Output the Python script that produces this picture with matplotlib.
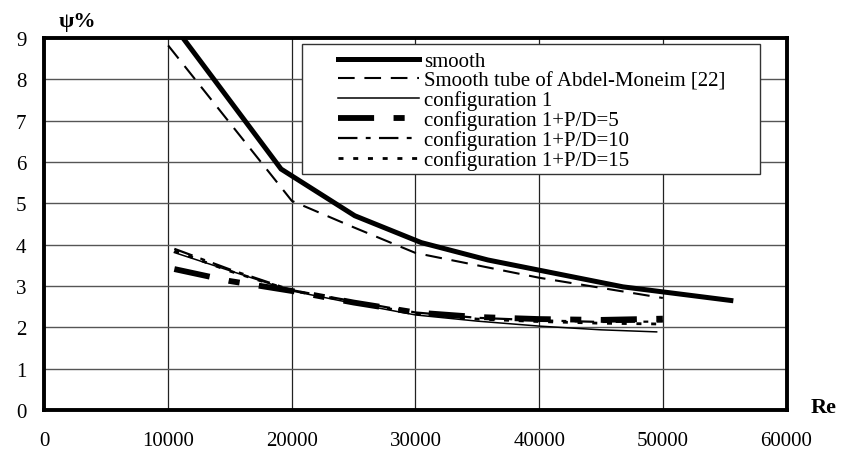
import matplotlib
matplotlib.use("Agg")
from matplotlib import pyplot as plt
from matplotlib.patches import Rectangle

plt.rcParams['font.family'] = ['Liberation Serif', 'DejaVu Serif']
plt.rcParams['lines.scale_dashes'] = False

# friction factor ratio psi (%) against Reynolds number
re_smooth = [10500, 19130, 25090, 30470, 35850, 46770, 55500]
psi_smooth = [9.28, 5.83, 4.70, 4.05, 3.63, 2.98, 2.65]

re_abdel = [10000, 20000, 25000, 30000, 40000, 50000]
psi_abdel = [8.82, 5.06, 4.42, 3.80, 3.20, 2.71]

re_conf1 = [10500, 20000, 25000, 30000, 35000, 40000, 45000, 49500]
psi_conf1 = [3.81, 2.88, 2.58, 2.30, 2.15, 2.03, 1.94, 1.89]

re_pd = [10500, 15000, 20000, 25000, 30000, 35000, 40000, 45000, 50000]
psi_pd5 = [3.41, 3.12, 2.88, 2.60, 2.36, 2.25, 2.20, 2.18, 2.21]
psi_pd10 = [3.90, 3.40, 2.90, 2.63, 2.36, 2.23, 2.17, 2.13, 2.14]
psi_pd15 = [3.85, 3.36, 2.89, 2.61, 2.33, 2.20, 2.14, 2.10, 2.08]

x_ticks = [0, 10000, 20000, 30000, 40000, 50000, 60000]
y_ticks = list(range(0, 10))

fig = plt.figure(figsize=(8.41, 4.6), dpi=100)
ax = fig.add_axes([0.0529, 0.1065, 0.8823, 0.8087])

ax.set_xlim(0, 60000)
ax.set_ylim(0, 9)
ax.set_xticks(x_ticks)
ax.set_yticks(y_ticks)
ax.tick_params(axis='x', length=0, pad=15, labelsize=15)
ax.tick_params(axis='y', length=0, pad=13, labelsize=15)

#grille
for v in x_ticks[1:-1]:
    ax.axvline(v, color='#222222', lw=0.9, zorder=1)
for h in y_ticks[1:-1]:
    ax.axhline(h, color='#555555', lw=1.0, zorder=1)

for s in ax.spines.values():
    s.set_linewidth(2.8)
    s.set_zorder(6)

ax.plot(re_smooth, psi_smooth, color='black', lw=3.6, solid_joinstyle='miter',
        label='smooth', zorder=3)
ax.plot(re_abdel, psi_abdel, color='black', lw=1.5, dashes=(12, 7),
        label='Smooth tube of Abdel-Moneim [22]', zorder=3)
ax.plot(re_conf1, psi_conf1, color='black', lw=1.1,
        label='configuration 1', zorder=3)
ax.plot(re_pd, psi_pd5, color='black', lw=4.2, dashes=(26, 14, 8, 14),
        solid_capstyle='butt', dash_capstyle='butt',
        label='configuration 1+P/D=5', zorder=3)
ax.plot(re_pd, psi_pd10, color='black', lw=1.6, dashes=(14, 6, 3.5, 6),
        dash_capstyle='butt', label='configuration 1+P/D=10', zorder=3)
ax.plot(re_pd, psi_pd15, color='black', lw=2.0, dashes=(3.6, 7),
        dash_capstyle='butt', label='configuration 1+P/D=15', zorder=3)

# cadre de la légende
ax.add_patch(Rectangle((0.347, 0.634), 0.617, 0.350, transform=ax.transAxes,
                       facecolor='white', edgecolor='#333333', lw=1.0,
                       zorder=4))
leg = ax.legend(loc='upper left', bbox_to_anchor=(0.3955, 0.964),
                frameon=False, fontsize=15, handlelength=3.9,
                handletextpad=0.25, labelspacing=0.0, borderpad=0,
                borderaxespad=0)
leg.set_zorder(5)

fig.text(77 / 841, 1 - 22 / 460, 'ψ%', fontsize=16, fontweight='bold',
         ha='center', va='center')
fig.text(824 / 841, 1 - 408 / 460, 'Re', fontsize=16, fontweight='bold',
         ha='center', va='center')

fig.savefig('out.png', dpi=100)
